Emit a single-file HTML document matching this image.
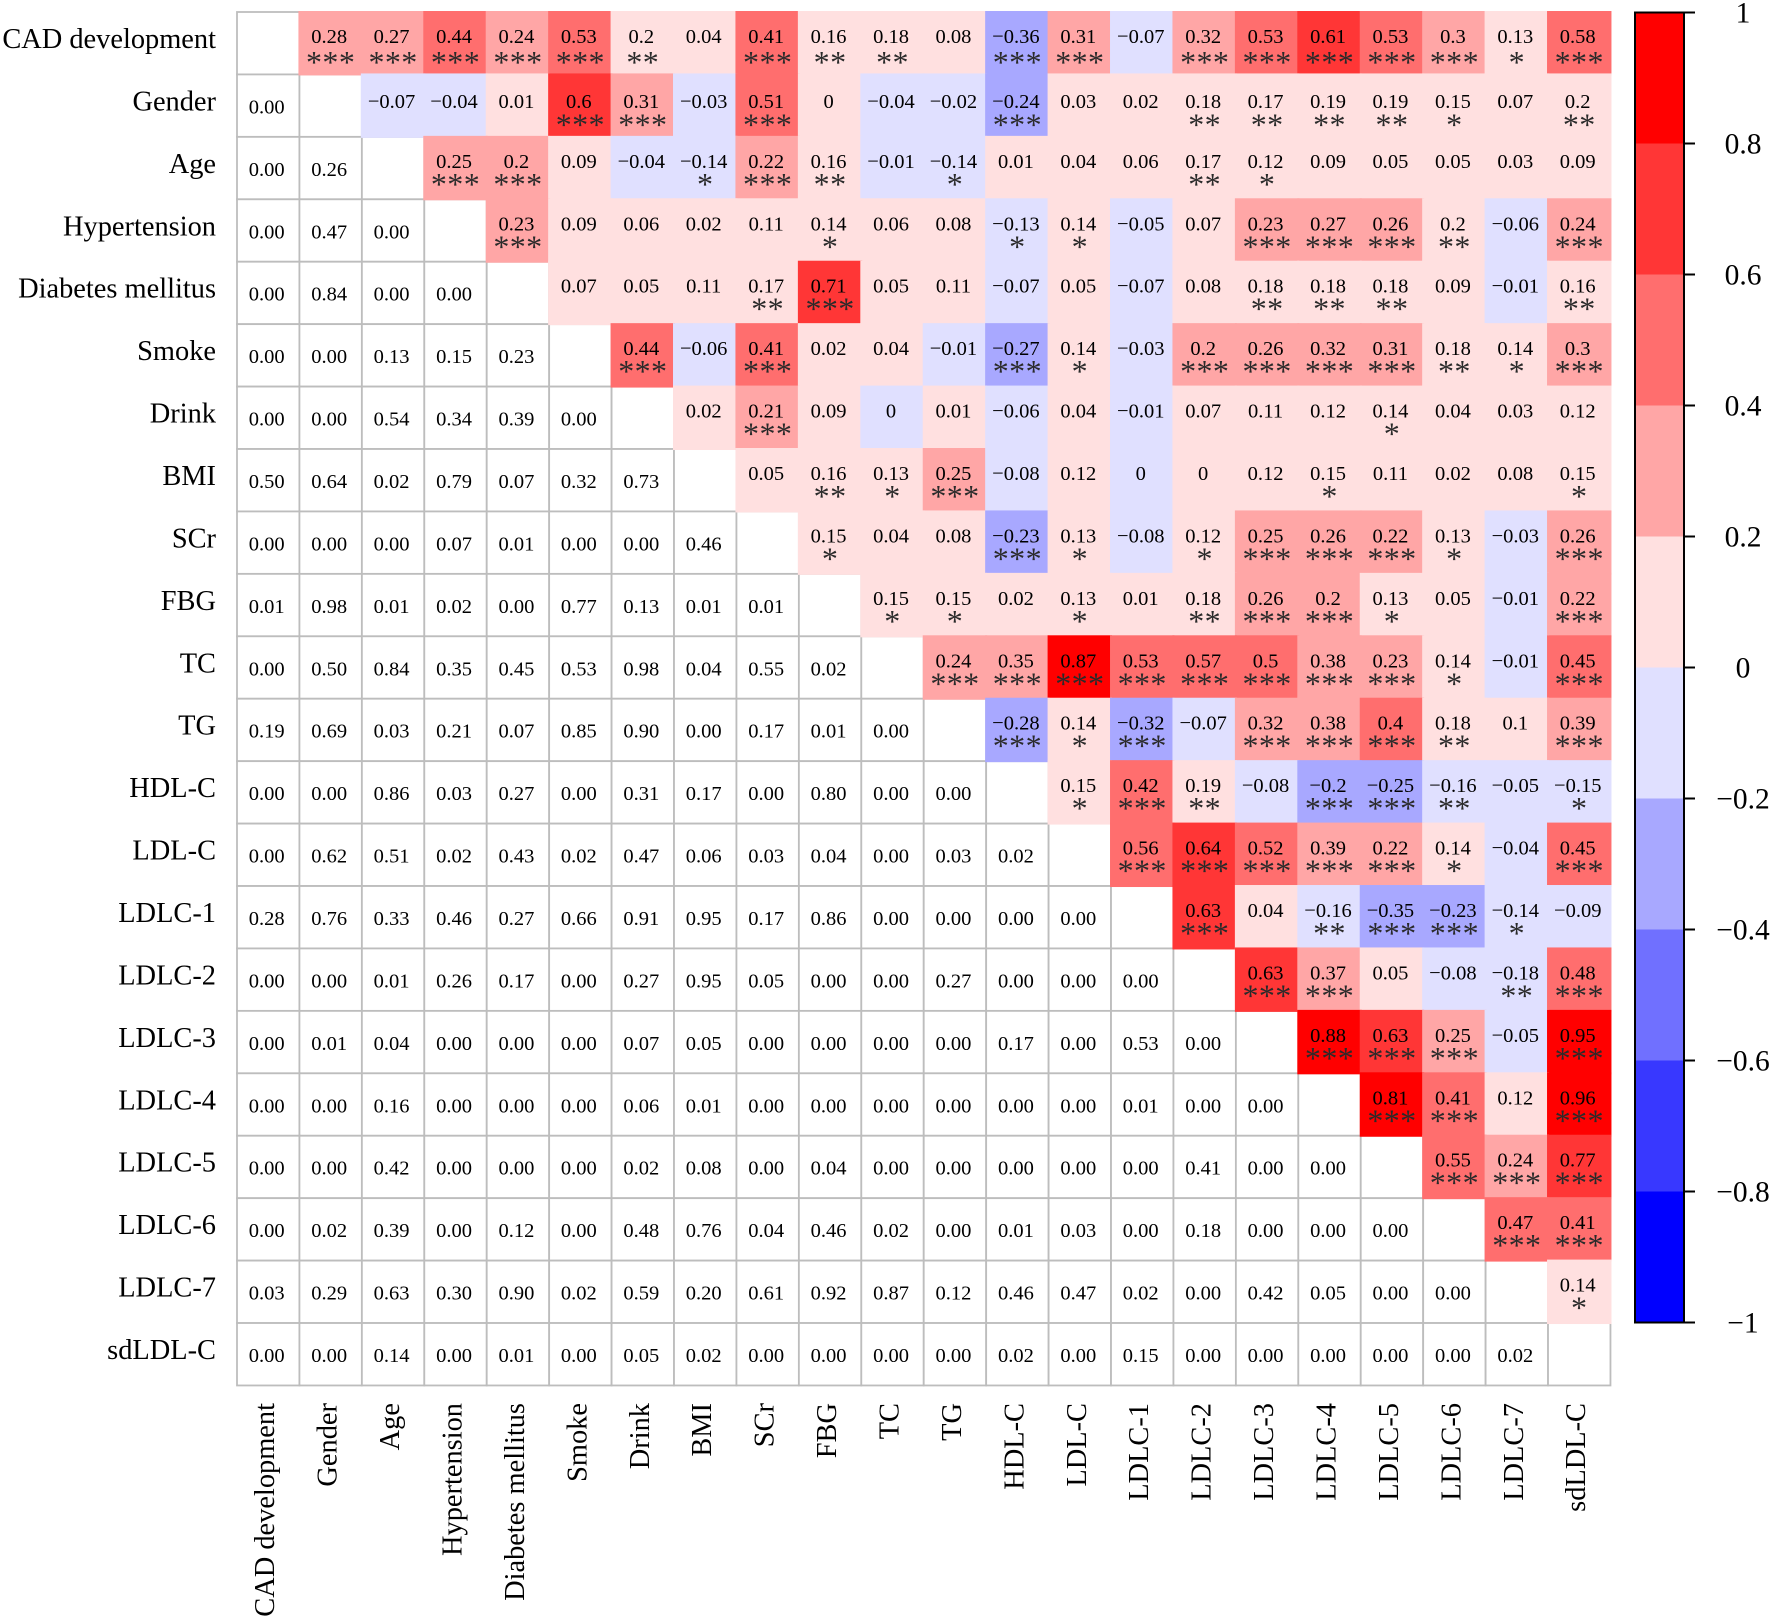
<!DOCTYPE html>
<html lang="en">
<head>
<meta charset="utf-8">
<title>Correlation heatmap</title>
<style>
  html, body { margin: 0; padding: 0; background: #fff; }
  #chart { display: block; width: 1772px; height: 1619px; }
  text { font-family: "Liberation Serif", "Times New Roman", serif; fill: #000; }
</style>
</head>
<body>
<svg id="chart" xmlns="http://www.w3.org/2000/svg" width="1772" height="1619" viewBox="0 0 1772 1619">
  <rect x="0" y="0" width="1772" height="1619" fill="#ffffff"></rect>
  <g id="grid"></g>
  <g id="cells"></g>
  <g id="labels"></g>
  <g id="ticks"></g>
  <g id="colorbar"></g>
</svg>
<script>
const categories = ["CAD development","Gender","Age","Hypertension","Diabetes mellitus","Smoke","Drink","BMI","SCr","FBG","TC","TG","HDL-C","LDL-C","LDLC-1","LDLC-2","LDLC-3","LDLC-4","LDLC-5","LDLC-6","LDLC-7","sdLDL-C"];

// Upper triangle: correlation coefficients, row by row, starting right of the diagonal.
// Printed labels round to 2 decimals; a few values keep a third decimal.
const correlations = [
  [0.28,0.27,0.44,0.24,0.53,0.199,0.04,0.41,0.16,0.18,0.08,-0.36,0.31,-0.07,0.32,0.53,0.61,0.53,0.3,0.13,0.58],
  [-0.07,-0.04,0.01,0.6,0.31,-0.03,0.51,0,-0.04,-0.02,-0.24,0.03,0.02,0.18,0.17,0.19,0.19,0.15,0.07,0.199],
  [0.25,0.2,0.09,-0.04,-0.14,0.22,0.16,-0.01,-0.14,0.01,0.04,0.06,0.17,0.12,0.09,0.05,0.05,0.03,0.09],
  [0.23,0.09,0.06,0.02,0.11,0.14,0.06,0.08,-0.13,0.14,-0.05,0.07,0.23,0.27,0.26,0.199,-0.06,0.24],
  [0.07,0.05,0.11,0.17,0.71,0.05,0.11,-0.07,0.05,-0.07,0.08,0.18,0.18,0.18,0.09,-0.01,0.16],
  [0.44,-0.06,0.41,0.02,0.04,-0.01,-0.27,0.14,-0.03,0.2,0.26,0.32,0.31,0.18,0.14,0.3],
  [0.02,0.21,0.09,-0.001,0.01,-0.06,0.04,-0.01,0.07,0.11,0.12,0.14,0.04,0.03,0.12],
  [0.05,0.16,0.13,0.25,-0.08,0.12,-0.001,0,0.12,0.15,0.11,0.02,0.08,0.15],
  [0.15,0.04,0.08,-0.23,0.13,-0.08,0.12,0.25,0.26,0.22,0.13,-0.03,0.26],
  [0.15,0.15,0.02,0.13,0.01,0.18,0.26,0.2,0.13,0.05,-0.01,0.22],
  [0.24,0.35,0.87,0.53,0.57,0.5,0.38,0.23,0.14,-0.01,0.45],
  [-0.28,0.14,-0.32,-0.07,0.32,0.38,0.4,0.18,0.1,0.39],
  [0.15,0.42,0.19,-0.08,-0.201,-0.25,-0.16,-0.05,-0.15],
  [0.56,0.64,0.52,0.39,0.22,0.14,-0.04,0.45],
  [0.63,0.04,-0.16,-0.35,-0.23,-0.14,-0.09],
  [0.63,0.37,0.05,-0.08,-0.18,0.48],
  [0.88,0.63,0.25,-0.05,0.95],
  [0.81,0.41,0.12,0.96],
  [0.55,0.24,0.77],
  [0.47,0.41],
  [0.14]
];

// Upper triangle: number of significance stars per cell
const starCounts = [
  [3,3,3,3,3,2,0,3,2,2,0,3,3,0,3,3,3,3,3,1,3],
  [0,0,0,3,3,0,3,0,0,0,3,0,0,2,2,2,2,1,0,2],
  [3,3,0,0,1,3,2,0,1,0,0,0,2,1,0,0,0,0,0],
  [3,0,0,0,0,1,0,0,1,1,0,0,3,3,3,2,0,3],
  [0,0,0,2,3,0,0,0,0,0,0,2,2,2,0,0,2],
  [3,0,3,0,0,0,3,1,0,3,3,3,3,2,1,3],
  [0,3,0,0,0,0,0,0,0,0,0,1,0,0,0],
  [0,2,1,3,0,0,0,0,0,1,0,0,0,1],
  [1,0,0,3,1,0,1,3,3,3,1,0,3],
  [1,1,0,1,0,2,3,3,1,0,0,3],
  [3,3,3,3,3,3,3,3,1,0,3],
  [3,1,3,0,3,3,3,2,0,3],
  [1,3,2,0,3,3,2,0,1],
  [3,3,3,3,3,1,0,3],
  [3,0,2,3,3,1,0],
  [3,3,0,0,2,3],
  [3,3,3,0,3],
  [3,3,0,3],
  [3,3,3],
  [3,3],
  [1]
];

// Lower triangle: p-values, row by row from row 2, left to the diagonal
const pValues = [
  ["0.00"],
  ["0.00","0.26"],
  ["0.00","0.47","0.00"],
  ["0.00","0.84","0.00","0.00"],
  ["0.00","0.00","0.13","0.15","0.23"],
  ["0.00","0.00","0.54","0.34","0.39","0.00"],
  ["0.50","0.64","0.02","0.79","0.07","0.32","0.73"],
  ["0.00","0.00","0.00","0.07","0.01","0.00","0.00","0.46"],
  ["0.01","0.98","0.01","0.02","0.00","0.77","0.13","0.01","0.01"],
  ["0.00","0.50","0.84","0.35","0.45","0.53","0.98","0.04","0.55","0.02"],
  ["0.19","0.69","0.03","0.21","0.07","0.85","0.90","0.00","0.17","0.01","0.00"],
  ["0.00","0.00","0.86","0.03","0.27","0.00","0.31","0.17","0.00","0.80","0.00","0.00"],
  ["0.00","0.62","0.51","0.02","0.43","0.02","0.47","0.06","0.03","0.04","0.00","0.03","0.02"],
  ["0.28","0.76","0.33","0.46","0.27","0.66","0.91","0.95","0.17","0.86","0.00","0.00","0.00","0.00"],
  ["0.00","0.00","0.01","0.26","0.17","0.00","0.27","0.95","0.05","0.00","0.00","0.27","0.00","0.00","0.00"],
  ["0.00","0.01","0.04","0.00","0.00","0.00","0.07","0.05","0.00","0.00","0.00","0.00","0.17","0.00","0.53","0.00"],
  ["0.00","0.00","0.16","0.00","0.00","0.00","0.06","0.01","0.00","0.00","0.00","0.00","0.00","0.00","0.01","0.00","0.00"],
  ["0.00","0.00","0.42","0.00","0.00","0.00","0.02","0.08","0.00","0.04","0.00","0.00","0.00","0.00","0.00","0.41","0.00","0.00"],
  ["0.00","0.02","0.39","0.00","0.12","0.00","0.48","0.76","0.04","0.46","0.02","0.00","0.01","0.03","0.00","0.18","0.00","0.00","0.00"],
  ["0.03","0.29","0.63","0.30","0.90","0.02","0.59","0.20","0.61","0.92","0.87","0.12","0.46","0.47","0.02","0.00","0.42","0.05","0.00","0.00"],
  ["0.00","0.00","0.14","0.00","0.01","0.00","0.05","0.02","0.00","0.00","0.00","0.00","0.02","0.00","0.15","0.00","0.00","0.00","0.00","0.00","0.02"]
];

const colorbarTicks = [1,0.8,0.6,0.4,0.2,0,-0.2,-0.4,-0.6,-0.8,-1];
const colorLevels = ["#0000ff","#3838ff","#7070ff","#a8a8ff","#e0e0ff","#ffe0e0","#ffa6a6","#ff6e6e","#ff3636","#ff0000"];

const NS = "http://www.w3.org/2000/svg";
const GRID_LEFT = 237, GRID_TOP = 12, CELL = 62.43;
const BAR_LEFT = 1635, BAR_RIGHT = 1684, BAR_TOP = 12.5, BAR_BOTTOM = 1322.5;

function xScale(i) { return GRID_LEFT + i * CELL; }
function yScale(i) { return GRID_TOP + i * CELL; }
function barScale(v) { return BAR_TOP + (1 - v) / 2 * (BAR_BOTTOM - BAR_TOP); }
function colorScale(v) {
  const idx = Math.min(colorLevels.length - 1, Math.max(0, Math.floor((v + 1) / 0.2 + 1e-9)));
  return colorLevels[idx];
}
function fmt(v) { return String(Math.round(v * 100) / 100 + 0).replace("-", "\u2212"); }
function labelShift(r) { return r === 1 ? 2.5 : 0; }
function starShift(r) { return r <= 1 ? 3 : 0; }
function mk(tag, parent, attrs, text) {
  const el = document.createElementNS(NS, tag);
  for (const k in attrs) el.setAttribute(k, attrs[k]);
  if (text !== undefined) el.textContent = text;
  parent.appendChild(el);
  return el;
}

const gridG = document.getElementById("grid");
const cellsG = document.getElementById("cells");
const labelsG = document.getElementById("labels");
const ticksG = document.getElementById("ticks");
const barG = document.getElementById("colorbar");
const n = categories.length;

// Grid cells: diagonal and lower triangle
for (let r = 0; r < n; r++) {
  for (let c = 0; c <= r; c++) {
    const rect = mk("rect", gridG, {x: xScale(c), y: yScale(r), width: CELL, height: CELL, fill: "#ffffff", stroke: "#bdbdbd", "stroke-width": 1.8});
    
    
  }
}

// Lower triangle p-values
pValues.forEach(function (row, ri) {
  row.forEach(function (p, c) {
    const r = ri + 1;
    const t = mk("text", labelsG, {x: xScale(c) + CELL / 2 - 1.5, y: yScale(r) + 39, "font-size": 20.5, "text-anchor": "middle"}, p);
    
    
  });
});

// Upper triangle coloured cells with coefficient and stars
correlations.forEach(function (row, r) {
  row.forEach(function (v, k) {
    const c = r + 1 + k;
    const rect = mk("rect", cellsG, {x: xScale(c) - 1, y: yScale(r) - 1, width: CELL + 2, height: CELL + 2, fill: colorScale(v)});
    
    
    const t = mk("text", labelsG, {x: xScale(c) + CELL / 2 - 1.5, y: yScale(r) + 31 + labelShift(r), "font-size": 20.5, "text-anchor": "middle"}, fmt(v));
    
    
    const count = starCounts[r][k];
    if (count > 0) {
      const s = mk("text", labelsG, {x: xScale(c) + CELL / 2, y: yScale(r) + 58 + starShift(r), "font-size": 32, "letter-spacing": 0.4, "text-anchor": "middle", style: "fill:#2a2a2a"}, "*".repeat(count));
      
      
    }
  });
});

// Axis tick labels
categories.forEach(function (name, i) {
  const yl = mk("text", ticksG, {x: 216, y: yScale(i) + 36, "font-size": 28.4, "text-anchor": "end"}, name);
  
  
  const bx = xScale(i) + CELL / 2 + 6, by = 1403;
  const xl = mk("text", ticksG, {x: bx, y: by, "font-size": 28.4, "text-anchor": "end", transform: "rotate(-90 " + bx + " " + by + ")"}, name);
  
  
});

// Colour bar
colorLevels.forEach(function (col, i) {
  const lo = -1 + i * 0.2, hi = lo + 0.2;
  const seg = mk("rect", barG, {x: BAR_LEFT, y: barScale(hi), width: BAR_RIGHT - BAR_LEFT, height: barScale(lo) - barScale(hi), fill: col});
  
  
});
const frame = mk("rect", barG, {x: BAR_LEFT, y: BAR_TOP, width: BAR_RIGHT - BAR_LEFT, height: BAR_BOTTOM - BAR_TOP, fill: "none", stroke: "#000", "stroke-width": 2});


colorbarTicks.forEach(function (v) {
  const y = barScale(v);
  const line = mk("line", barG, {x1: BAR_RIGHT, x2: 1695, y1: y, y2: y, stroke: "#000", "stroke-width": 2});
  
  
  const lab = mk("text", barG, {x: 1743, y: y + 10, "font-size": 29.5, "text-anchor": "middle"}, fmt(v));
  
  
});
</script>
</body>
</html>
